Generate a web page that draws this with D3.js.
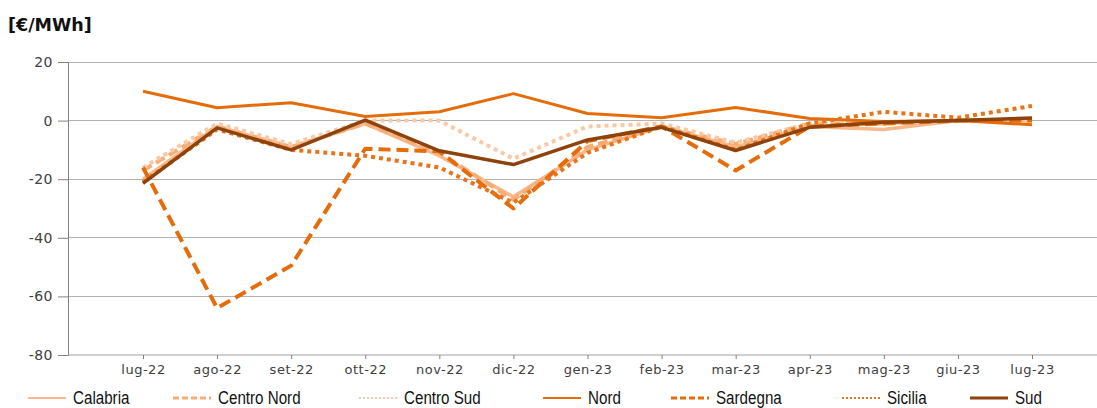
<!DOCTYPE html>
<html>
<head>
<meta charset="utf-8">
<script src="https://cdn.jsdelivr.net/npm/d3@7"></script>
<style>
  body { margin: 0; background: #fff; }
  svg { display: block; }
</style>
</head>
<body>
<div id="wrapper"></div>
<script>
// data
const months = ["lug-22","ago-22","set-22","ott-22","nov-22","dic-22","gen-23","feb-23","mar-23","apr-23","mag-23","giu-23","lug-23"];
const yTicks = [20, 0, -20, -40, -60, -80];

const calabria   = [-20, -2,  -9,  -1, -12, -26, -10, -2,  -9, -2, -3,  0,  0];
const centroNord = [-17, -2,  -9,  -1, -11, -27,  -9, -2,  -8, -1, -1,  0,  0];
const centroSud  = [-16, -1,  -8,   0,   0, -13,  -2, -1,  -7.5, -1, -1, 0, 0];
const nord       = [ 10, 4.4, 6.1, 1.4,  3, 9.2, 2.4,  1, 4.5, 0.7, -0.3, 0, -1.4];
const sardegna   = [-16,-64, -49.5,-9.6,-10.5,-30, -7, -2, -17, -2, -1,  0,  0];
const sicilia    = [-21, -3, -10, -12, -16, -28, -11, -2, -10, -1,  3,  1,  5];
const sud        = [-21.4,-2.5,-10, 0.2,-10.3,-15, -6.6,-2.3,-10.2,-2.3,-0.6, 0, 0.9];

const seriesNames = ["Calabria","Centro Nord","Centro Sud","Nord","Sardegna","Sicilia","Sud"];
const seriesValues = [calabria, centroNord, centroSud, nord, sardegna, sicilia, sud];

// styles
const styles = {
  "Calabria":    {color: "#f8b88b", width: 3.5, dash: null,   lw: 2,   ldash: null},
  "Centro Nord": {color: "#f7ae76", width: 4,   dash: "10,5", lw: 3,   ldash: "6,3"},
  "Centro Sud":  {color: "#f9c9a5", width: 4,   dash: "4,4",  lw: 2,   ldash: "2,2"},
  "Nord":        {color: "#e46c0a", width: 3,   dash: null,   lw: 2,   ldash: null},
  "Sardegna":    {color: "#e46c0a", width: 4,   dash: "12,6", lw: 3,   ldash: "6,3"},
  "Sicilia":     {color: "#e8741a", width: 4,   dash: "4,4",  lw: 2,   ldash: "2,2"},
  "Sud":         {color: "#8e420c", width: 3.5, dash: null,   lw: 3,   ldash: null}
};
const legendX = [28, 173, 359, 543, 671, 842, 970];

const W = 1097, H = 408;
const svg = d3.select("#wrapper").append("svg").attr("width", W).attr("height", H);

const x = d3.scalePoint().domain(months).range([143, 1032]);
const y = d3.scaleLinear().domain([-80, 20]).range([355, 62]);
const axisX0 = 68;

// title
svg.append("text").attr("x", 8).attr("y", 31)
  .style("font-family", "'DejaVu Sans', sans-serif").style("font-weight", "bold")
  .style("font-size", "17.5px").style("fill", "#111").text("[€/MWh]");

// gridlines
svg.append("g").selectAll("line").data(yTicks.filter(d => d !== -80)).enter().append("line")
  .attr("x1", axisX0).attr("x2", W).attr("y1", d => y(d)).attr("y2", d => y(d))
  .style("stroke", "#b3b3b3").style("stroke-width", 1).attr("shape-rendering", "crispEdges");

// y axis
const yAxis = svg.append("g").attr("transform", "translate(" + axisX0 + ",0)")
  .call(d3.axisLeft(y).tickValues(yTicks).tickFormat(d => String(d)).tickSize(10).tickPadding(5));
yAxis.select(".domain").style("stroke", "#808080");
yAxis.selectAll(".tick line").style("stroke", "#808080");
yAxis.selectAll("text").style("font-family", "'DejaVu Sans', sans-serif")
  .style("font-size", "14px").style("letter-spacing", "0.5px").style("fill", "#404040");

// x axis
const xAxis = svg.append("g").attr("transform", "translate(0," + y(-80) + ")")
  .call(d3.axisBottom(x).tickSize(4).tickPadding(6).tickSizeOuter(0));
xAxis.select(".domain").attr("d", "M" + axisX0 + ",0H" + W).style("stroke", "#a0a0a0");
xAxis.selectAll(".tick line").style("stroke", "#808080");
xAxis.selectAll("text").style("font-family", "'DejaVu Sans', sans-serif")
  .style("font-size", "13px").style("letter-spacing", "0.5px").style("fill", "#404040");

// lines
const line = d3.line().x((d, i) => x(months[i])).y(d => y(d));
const plot = svg.append("g");
seriesNames.forEach((name, k) => {
  const s = styles[name];
  plot.append("path").datum(seriesValues[k])
    .attr("d", line)
    .style("fill", "none").style("stroke", s.color).style("stroke-width", s.width)
    .style("stroke-dasharray", s.dash).style("stroke-linejoin", "round");
});

// legend (narrow text: regular face squeezed horizontally)
const leg = svg.append("g");
seriesNames.forEach((name, k) => {
  const s = styles[name];
  const g = leg.append("g").attr("transform", "translate(" + legendX[k] + ",398)");
  g.append("line").attr("x1", 0).attr("x2", 38).attr("y1", 0).attr("y2", 0)
    .style("stroke", s.color).style("stroke-width", s.lw).style("stroke-dasharray", s.ldash);
  g.append("text").attr("transform", "translate(45,6) scale(0.82,1)")
    .style("font-family", "'Liberation Sans', Arial, sans-serif")
    .style("font-size", "18.5px").style("fill", "#111").text(name);
});
</script>
</body>
</html>
